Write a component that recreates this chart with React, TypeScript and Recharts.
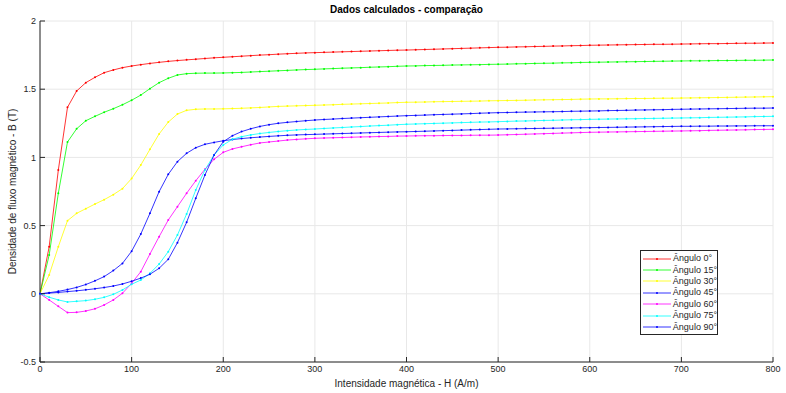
import { CartesianGrid, Legend, Line, LineChart, XAxis, YAxis } from 'recharts'

const FONT = '"Liberation Sans", Arial, Helvetica, sans-serif'
const INK = '#262626'

// campo magnético H (A/m)
const H = [
  0, 10, 20, 30, 40, 50, 60, 70, 80, 90, 100, 110, 120, 130, 140, 150, 160, 170, 180, 190, 200,
  210, 220, 230, 240, 250, 260, 270, 280, 290, 300, 310, 320, 330, 340, 350, 360, 370, 380, 390, 400,
  410, 420, 430, 440, 450, 460, 470, 480, 490, 500, 510, 520, 530, 540, 550, 560, 570, 580, 590, 600,
  610, 620, 630, 640, 650, 660, 670, 680, 690, 700, 710, 720, 730, 740, 750, 760, 770, 780, 790, 800,
]

// densidade de fluxo B (T) para cada ângulo
const B0 = [
  0, 0.345, 0.907, 1.367, 1.487, 1.548, 1.587, 1.621, 1.641, 1.658, 1.67,
  1.68, 1.689, 1.697, 1.704, 1.71, 1.715, 1.72, 1.725, 1.73, 1.734,
  1.738, 1.742, 1.746, 1.75, 1.753, 1.757, 1.76, 1.763, 1.766, 1.768,
  1.77, 1.772, 1.774, 1.776, 1.778, 1.78, 1.782, 1.784, 1.786, 1.787,
  1.789, 1.791, 1.793, 1.795, 1.797, 1.799, 1.801, 1.803, 1.805, 1.807,
  1.808, 1.81, 1.811, 1.813, 1.814, 1.816, 1.817, 1.819, 1.82, 1.822,
  1.823, 1.824, 1.825, 1.826, 1.827, 1.828, 1.829, 1.829, 1.83, 1.831,
  1.832, 1.833, 1.834, 1.834, 1.835, 1.836, 1.837, 1.837, 1.838, 1.839,
]
const B15 = [
  0, 0.284, 0.737, 1.113, 1.21, 1.269, 1.301, 1.331, 1.357, 1.386, 1.419,
  1.457, 1.504, 1.548, 1.58, 1.604, 1.614, 1.617, 1.618, 1.618, 1.619,
  1.621, 1.623, 1.626, 1.629, 1.632, 1.635, 1.638, 1.641, 1.644, 1.646,
  1.649, 1.651, 1.654, 1.656, 1.658, 1.661, 1.663, 1.665, 1.668, 1.67,
  1.671, 1.673, 1.674, 1.675, 1.677, 1.678, 1.679, 1.68, 1.682, 1.683,
  1.684, 1.686, 1.687, 1.689, 1.69, 1.691, 1.693, 1.694, 1.696, 1.697,
  1.698, 1.699, 1.7, 1.701, 1.702, 1.703, 1.704, 1.705, 1.706, 1.707,
  1.708, 1.708, 1.709, 1.71, 1.71, 1.711, 1.712, 1.712, 1.713, 1.714,
]
const B30 = [
  0, 0.138, 0.345, 0.536, 0.59, 0.624, 0.658, 0.69, 0.727, 0.771, 0.845,
  0.944, 1.059, 1.172, 1.259, 1.318, 1.345, 1.353, 1.355, 1.355, 1.356,
  1.358, 1.36, 1.363, 1.366, 1.37, 1.374, 1.376, 1.378, 1.38, 1.382,
  1.384, 1.386, 1.389, 1.391, 1.393, 1.395, 1.397, 1.399, 1.402, 1.404,
  1.405, 1.406, 1.408, 1.409, 1.41, 1.411, 1.412, 1.413, 1.415, 1.416,
  1.417, 1.418, 1.419, 1.421, 1.422, 1.423, 1.424, 1.425, 1.427, 1.428,
  1.429, 1.429, 1.43, 1.431, 1.432, 1.432, 1.433, 1.434, 1.434, 1.435,
  1.436, 1.437, 1.438, 1.439, 1.44, 1.441, 1.442, 1.443, 1.444, 1.445,
]
const B45 = [
  0, 0.008, 0.018, 0.031, 0.047, 0.068, 0.095, 0.126, 0.17, 0.223, 0.312,
  0.438, 0.59, 0.749, 0.876, 0.969, 1.03, 1.071, 1.096, 1.11, 1.122,
  1.131, 1.138, 1.144, 1.149, 1.154, 1.158, 1.162, 1.165, 1.167, 1.169,
  1.171, 1.173, 1.175, 1.177, 1.179, 1.181, 1.183, 1.185, 1.187, 1.188,
  1.19, 1.192, 1.194, 1.196, 1.198, 1.2, 1.202, 1.204, 1.206, 1.208,
  1.209, 1.21, 1.211, 1.212, 1.213, 1.214, 1.215, 1.216, 1.217, 1.218,
  1.219, 1.22, 1.221, 1.222, 1.223, 1.224, 1.225, 1.226, 1.227, 1.228,
  1.228, 1.229, 1.229, 1.23, 1.23, 1.231, 1.231, 1.232, 1.232, 1.232,
]
const B60 = [
  0, -0.045, -0.092, -0.138, -0.136, -0.126, -0.11, -0.082, -0.045, 0.004, 0.077,
  0.162, 0.292, 0.419, 0.541, 0.639, 0.737, 0.829, 0.913, 0.986, 1.037,
  1.062, 1.078, 1.093, 1.106, 1.113, 1.12, 1.127, 1.132, 1.136, 1.14,
  1.142, 1.144, 1.146, 1.148, 1.15, 1.151, 1.153, 1.154, 1.156, 1.157,
  1.158, 1.159, 1.159, 1.16, 1.161, 1.161, 1.162, 1.163, 1.163, 1.164,
  1.166, 1.168, 1.17, 1.172, 1.174, 1.176, 1.178, 1.18, 1.182, 1.184,
  1.185, 1.186, 1.187, 1.188, 1.189, 1.19, 1.191, 1.192, 1.193, 1.194,
  1.195, 1.196, 1.198, 1.199, 1.2, 1.201, 1.202, 1.204, 1.205, 1.206,
]
const B75 = [
  0, -0.025, -0.045, -0.06, -0.055, -0.05, -0.04, -0.026, -0.004, 0.028, 0.07,
  0.101, 0.15, 0.218, 0.309, 0.431, 0.585, 0.761, 0.908, 1.018, 1.091,
  1.133, 1.152, 1.165, 1.175, 1.183, 1.19, 1.196, 1.201, 1.205, 1.208,
  1.212, 1.216, 1.219, 1.223, 1.226, 1.23, 1.233, 1.236, 1.24, 1.243,
  1.245, 1.247, 1.249, 1.251, 1.253, 1.255, 1.257, 1.259, 1.26, 1.262,
  1.264, 1.266, 1.267, 1.269, 1.271, 1.272, 1.274, 1.276, 1.277, 1.279,
  1.28, 1.281, 1.282, 1.283, 1.284, 1.285, 1.286, 1.287, 1.288, 1.289,
  1.29, 1.291, 1.293, 1.294, 1.295, 1.296, 1.297, 1.299, 1.3, 1.301,
]
const B90 = [
  0, 0.005, 0.01, 0.016, 0.022, 0.029, 0.037, 0.046, 0.057, 0.072, 0.092,
  0.115, 0.143, 0.187, 0.253, 0.375, 0.524, 0.7, 0.871, 1.018, 1.115,
  1.159, 1.189, 1.21, 1.227, 1.24, 1.25, 1.257, 1.263, 1.269, 1.274,
  1.278, 1.281, 1.285, 1.288, 1.291, 1.294, 1.297, 1.3, 1.303, 1.306,
  1.308, 1.31, 1.313, 1.315, 1.317, 1.319, 1.321, 1.324, 1.326, 1.328,
  1.329, 1.331, 1.332, 1.333, 1.334, 1.335, 1.336, 1.338, 1.339, 1.34,
  1.341, 1.343, 1.344, 1.345, 1.347, 1.348, 1.349, 1.35, 1.352, 1.353,
  1.354, 1.355, 1.356, 1.357, 1.358, 1.359, 1.36, 1.361, 1.361, 1.362,
]

const X_TICKS = [0, 100, 200, 300, 400, 500, 600, 700, 800]
const Y_TICKS = [-0.5, 0, 0.5, 1, 1.5, 2]

const SERIES = [
  { key: 'a0', name: 'Ângulo 0°', color: '#ff0000', values: B0 },
  { key: 'a15', name: 'Ângulo 15°', color: '#00ff00', values: B15 },
  { key: 'a30', name: 'Ângulo 30°', color: '#ffff00', values: B30 },
  { key: 'a45', name: 'Ângulo 45°', color: '#0000ff', values: B45 },
  { key: 'a60', name: 'Ângulo 60°', color: '#ff00ff', values: B60 },
  { key: 'a75', name: 'Ângulo 75°', color: '#00ffff', values: B75 },
  { key: 'a90', name: 'Ângulo 90°', color: '#0000ff', values: B90 },
]

const data = H.map((h, i) => {
  const row: Record<string, number> = { h }
  SERIES.forEach((s) => (row[s.key] = s.values[i]))
  return row
})

function XLabel({ viewBox }: any) {
  const { x, y, width } = viewBox
  return (
    <text x={x + width / 2} y={y + 25} textAnchor="middle" fontSize={10} fill={INK} fontFamily={FONT}>
      Intensidade magnética - H (A/m)
    </text>
  )
}

function YLabel({ viewBox }: any) {
  const { x, y, height } = viewBox
  const cx = x + 12
  const cy = y + height / 2
  return (
    <text
      x={cx}
      y={cy}
      transform={`rotate(-90, ${cx}, ${cy})`}
      textAnchor="middle"
      dominantBaseline="central"
      fontSize={10}
      fill={INK}
      fontFamily={FONT}
    >
      Densidade de fluxo magnético - B (T)
    </text>
  )
}

function LegendBox({ payload }: any) {
  return (
    <div
      style={{
        boxSizing: 'border-box',
        width: 78,
        height: 85,
        border: `1px solid ${INK}`,
        background: '#fff',
        padding: '2px 0 0 2px',
        fontFamily: FONT,
        fontSize: 9,
        color: INK,
      }}
    >
      {(payload || []).map((p: any) => (
        <div key={p.value} style={{ display: 'flex', alignItems: 'center', height: 11.4 }}>
          <svg width={28} height={6} style={{ display: 'block' }}>
            <line x1={0} y1={3} x2={28} y2={3} stroke={p.color} strokeWidth={0.8} />
            <circle cx={14} cy={3} r={1} fill={p.color} />
          </svg>
          <span style={{ marginLeft: 2, whiteSpace: 'nowrap', lineHeight: '11px' }}>{p.value}</span>
        </div>
      ))}
    </div>
  )
}

export default function App() {
  return (
    <div style={{ position: 'absolute', left: 0, top: 0, width: 786, height: 393, background: '#fff' }}>
      <div
        style={{
          position: 'absolute',
          left: 40,
          width: 733,
          top: 4,
          textAlign: 'center',
          fontFamily: FONT,
          fontWeight: 'bold',
          fontSize: 10,
          color: '#000',
          lineHeight: '12px',
        }}
      >
        Dados calculados - comparação
      </div>
      <LineChart width={786} height={393} data={data} margin={{ top: 21, right: 13, bottom: 0, left: 0 }}>
        <CartesianGrid stroke="#e8e8e8" />
        <XAxis
          dataKey="h"
          type="number"
          domain={[0, 800]}
          ticks={X_TICKS}
          interval={0}
          height={31}
          tickSize={-5}
          tickMargin={9}
          tick={{ fontSize: 9, fill: INK, fontFamily: FONT }}
          axisLine={{ stroke: INK }}
          tickLine={{ stroke: INK }}
          label={<XLabel />}
        />
        <YAxis
          type="number"
          domain={[-0.5, 2]}
          ticks={Y_TICKS}
          interval={0}
          width={40}
          tickSize={-5}
          tickMargin={9}
          tick={{ fontSize: 9, fill: INK, fontFamily: FONT }}
          axisLine={{ stroke: INK }}
          tickLine={{ stroke: INK }}
          label={<YLabel />}
        />
        <Legend
          layout="vertical"
          align="center"
          verticalAlign="middle"
          content={<LegendBox />}
          wrapperStyle={{ position: 'absolute', left: 640, top: 250, width: 78 }}
        />
        {SERIES.map((s) => (
          <Line
            key={s.key}
            type="linear"
            dataKey={s.key}
            name={s.name}
            stroke={s.color}
            strokeWidth={0.8}
            dot={{ r: 1, fill: s.color, stroke: 'none' }}
            activeDot={false}
            isAnimationActive={false}
          />
        ))}
      </LineChart>
    </div>
  )
}
